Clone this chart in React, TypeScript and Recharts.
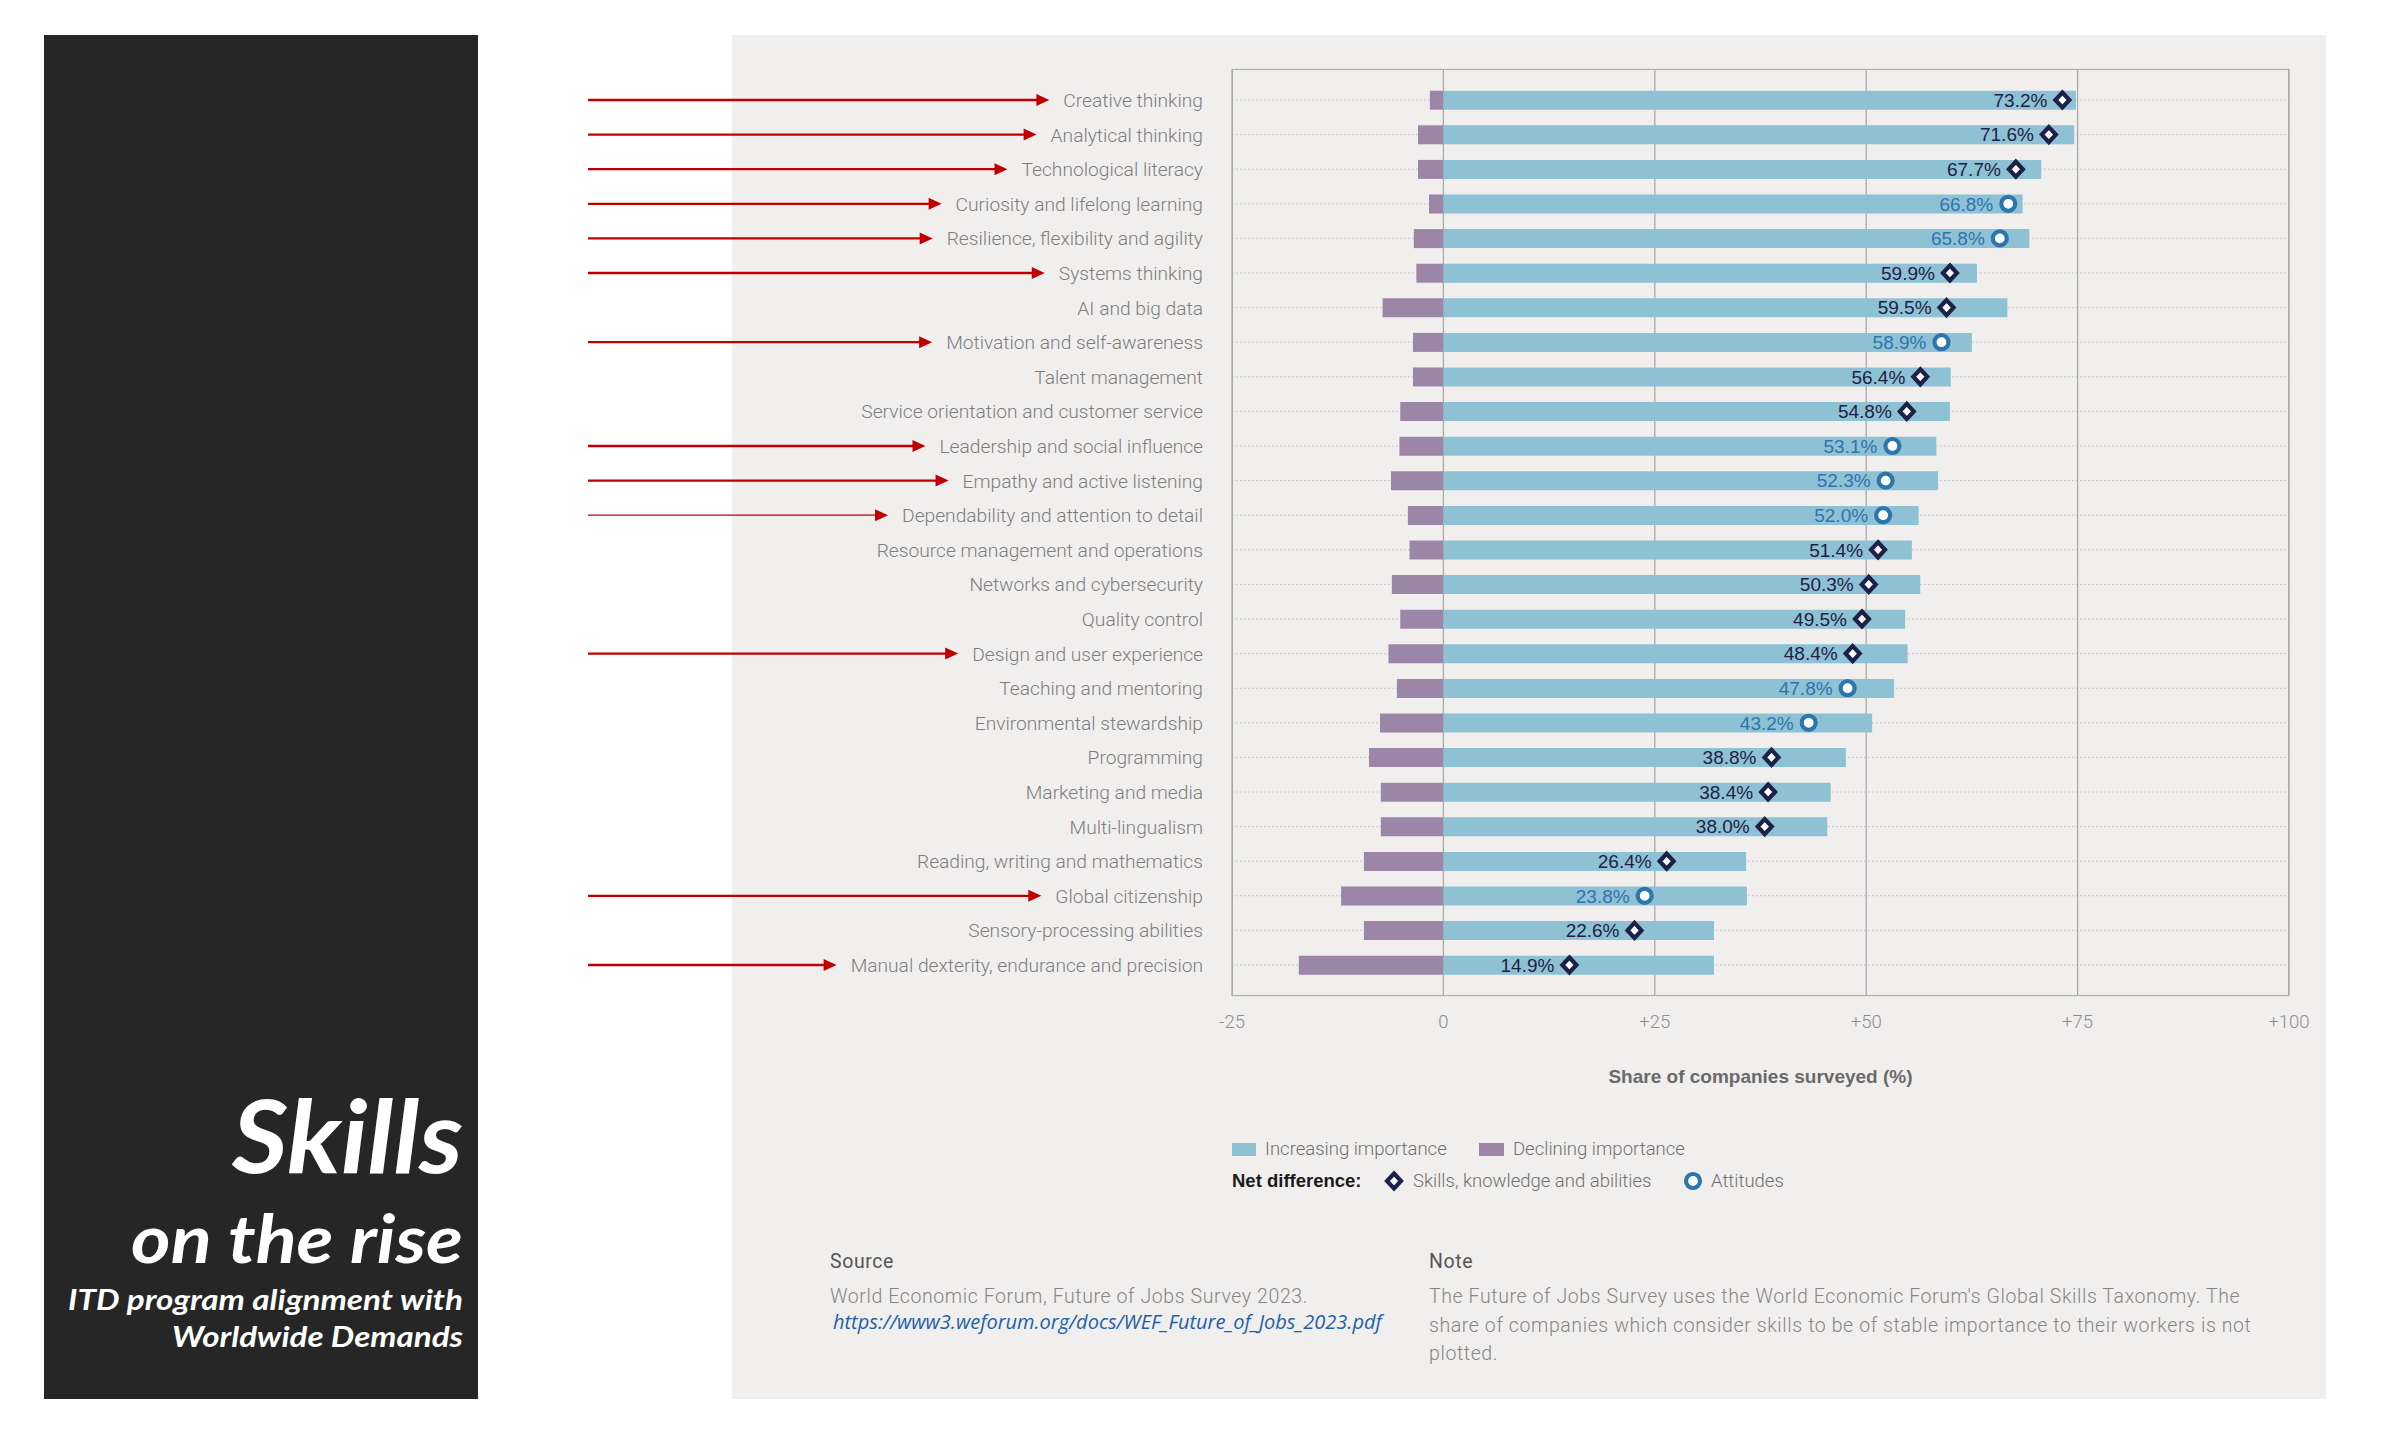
import React from "react";
import {
  ComposedChart,
  Bar,
  Line,
  XAxis,
  YAxis,
  CartesianGrid,
  Label,
} from "recharts";

// --- data (top row first) ---
const categories = [
  "Creative thinking",
  "Analytical thinking",
  "Technological literacy",
  "Curiosity and lifelong learning",
  "Resilience, flexibility and agility",
  "Systems thinking",
  "AI and big data",
  "Motivation and self-awareness",
  "Talent management",
  "Service orientation and customer service",
  "Leadership and social influence",
  "Empathy and active listening",
  "Dependability and attention to detail",
  "Resource management and operations",
  "Networks and cybersecurity",
  "Quality control",
  "Design and user experience",
  "Teaching and mentoring",
  "Environmental stewardship",
  "Programming",
  "Marketing and media",
  "Multi-lingualism",
  "Reading, writing and mathematics",
  "Global citizenship",
  "Sensory-processing abilities",
  "Manual dexterity, endurance and precision",
];

const increasing = [
  74.8, 74.6, 70.7, 68.5, 69.3, 63.1, 66.7, 62.5, 60.0, 59.9, 58.3, 58.5, 56.2,
  55.4, 56.4, 54.6, 54.9, 53.3, 50.7, 47.6, 45.8, 45.4, 35.8, 35.9, 32.0, 32.0,
];

const declining = [
  -1.6, -3.0, -3.0, -1.7, -3.5, -3.2, -7.2, -3.6, -3.6, -5.1, -5.2, -6.2, -4.2,
  -4.0, -6.1, -5.1, -6.5, -5.5, -7.5, -8.8, -7.4, -7.4, -9.4, -12.1, -9.4, -17.1,
];

const netDifference = [
  73.2, 71.6, 67.7, 66.8, 65.8, 59.9, 59.5, 58.9, 56.4, 54.8, 53.1, 52.3, 52.0,
  51.4, 50.3, 49.5, 48.4, 47.8, 43.2, 38.8, 38.4, 38.0, 26.4, 23.8, 22.6, 14.9,
];

// "s" = skills, knowledge and abilities, "a" = attitudes
const netType = [
  "s", "s", "s", "a", "a", "s", "s", "a", "s", "s", "a", "a", "a",
  "s", "s", "s", "s", "a", "a", "s", "s", "s", "s", "a", "s", "s",
];

// skills the ITD program points at
const highlighted = [
  "Creative thinking",
  "Analytical thinking",
  "Technological literacy",
  "Curiosity and lifelong learning",
  "Resilience, flexibility and agility",
  "Systems thinking",
  "Motivation and self-awareness",
  "Leadership and social influence",
  "Empathy and active listening",
  "Dependability and attention to detail",
  "Design and user experience",
  "Global citizenship",
  "Manual dexterity, endurance and precision",
];
const thinArrows = ["Dependability and attention to detail"];

const xTicks = [-25, 0, 25, 50, 75, 100];

const rows = categories.map((name, i) => ({
  name,
  inc: increasing[i],
  dec: declining[i],
  net: netDifference[i],
  type: netType[i],
}));

// --- styling ---
const BAR_BLUE = "#8fc1d4";
const BAR_PURPLE = "#9b86a8";
const NAVY = "#1d2149";
const ATT_BLUE = "#2c76ae";
const RED = "#c00000";
const GREY_TXT = "#7d7d7d";
const LIGHT = "Roboto, 'Liberation Sans', sans-serif";
const ARIAL = "'Liberation Sans', Arial, sans-serif";
const CAT_FONT = 19.2;

// chart placement (page px)
const CHART_LEFT = 580;
const CHART_TOP = 35;
const YAXIS_W = 652; // plot starts at 1232
const CHART_W = 1746;
const CHART_H = 1061;

let ctx: CanvasRenderingContext2D | null = null;
function textWidth(s: string, font: string) {
  if (!ctx) ctx = document.createElement("canvas").getContext("2d");
  if (!ctx) return s.length * 9;
  ctx.font = font;
  return ctx.measureText(s).width;
}

const fmtTick = (v: number) => (v > 0 ? `+${v}` : `${v}`);

function CategoryTick(props: any) {
  const { y, payload } = props;
  const name: string = payload.value;
  const right = YAXIS_W - 29;
  const w = textWidth(name, `300 ${CAT_FONT}px Roboto`);
  const tip = right - w - 14;
  const arrow = highlighted.includes(name);
  return (
    <g>
      {arrow && (
        <g>
          <line
            x1={8}
            x2={tip - 10}
            y1={y}
            y2={y}
            stroke={RED}
            strokeWidth={thinArrows.includes(name) ? 1.2 : 2.3}
          />
          <polygon
            points={`${tip - 13},${y - 6} ${tip},${y} ${tip - 13},${y + 6}`}
            fill={RED}
          />
        </g>
      )}
      <text
        x={right}
        y={y}
        dy="0.36em"
        textAnchor="end"
        fontSize={CAT_FONT}
        fontWeight={300}
        fontFamily={LIGHT}
        fill={GREY_TXT}
      >
        {name}
      </text>
    </g>
  );
}

function Diamond({ cx, cy, color }: { cx: number; cy: number; color: string }) {
  return (
    <polygon
      points={`${cx},${cy - 7.5} ${cx + 7},${cy} ${cx},${cy + 7.5} ${cx - 7},${cy}`}
      fill="#fff"
      stroke={color}
      strokeWidth={4.2}
    />
  );
}

function Ring({ cx, cy, color }: { cx: number; cy: number; color: string }) {
  return <circle cx={cx} cy={cy} r={7} fill="#fff" stroke={color} strokeWidth={4.2} />;
}

function NetMarker(props: any) {
  const { cx, cy, payload, index } = props;
  if (cx == null || cy == null) return <g key={index} />;
  const att = payload.type === "a";
  const color = att ? ATT_BLUE : NAVY;
  return (
    <g key={`m${index}`}>
      <text
        x={cx - 15}
        y={cy}
        dy="0.36em"
        textAnchor="end"
        fontSize={19}
        fontFamily={ARIAL}
        fill={color}
      >
        {`${payload.net.toFixed(1)}%`}
      </text>
      {att ? <Ring cx={cx} cy={cy} color={color} /> : <Diamond cx={cx} cy={cy} color={color} />}
    </g>
  );
}

const abs = (left: number, top: number, extra: React.CSSProperties = {}): React.CSSProperties => ({
  position: "absolute",
  left,
  top,
  whiteSpace: "nowrap",
  ...extra,
});

const legendText: React.CSSProperties = {
  fontFamily: LIGHT,
  fontWeight: 300,
  fontSize: 18.5,
  color: "#6f6f6f",
  lineHeight: "24px",
};

const bodyText: React.CSSProperties = {
  fontFamily: LIGHT,
  fontWeight: 300,
  fontSize: 19.5,
  letterSpacing: 0.6,
  color: "#858585",
  lineHeight: "24px",
};

export default function App() {
  return (
    <div
      style={{
        position: "absolute",
        left: 0,
        top: 0,
        width: 2393,
        height: 1435,
        background: "#ffffff",
        overflow: "hidden",
      }}
    >
      {/* dark title panel */}
      <div style={abs(44, 35, { width: 434, height: 1364, background: "#262626" })} />
      <svg style={abs(0, 0)} width={500} height={1435}>
        <g fill="#ffffff" fontFamily="Lato, 'Open Sans', sans-serif" fontStyle="italic" fontWeight={700} textAnchor="end">
          <text x={463} y={1173} fontSize={102} textLength={231} lengthAdjust="spacingAndGlyphs">
            Skills
          </text>
          <text x={463} y={1263} fontSize={66} textLength={332} lengthAdjust="spacingAndGlyphs">
            on the rise
          </text>
          <text x={463} y={1310} fontSize={28} textLength={395} lengthAdjust="spacingAndGlyphs">
            ITD program alignment with
          </text>
          <text x={463} y={1347} fontSize={28} textLength={291} lengthAdjust="spacingAndGlyphs">
            Worldwide Demands
          </text>
        </g>
      </svg>

      {/* light chart panel */}
      <div style={abs(732, 35, { width: 1594, height: 1364, background: "#f0efee" })} />

      {/* plot frame */}
      <div
        style={abs(1232, 69, {
          width: 1057,
          height: 927,
          border: "1.5px solid #a9a9a9",
          boxSizing: "border-box",
        })}
      />

      <div style={abs(CHART_LEFT, CHART_TOP)}>
        <ComposedChart
          width={CHART_W}
          height={CHART_H}
          data={rows}
          layout="vertical"
          stackOffset="sign"
          margin={{ top: 34, right: 37, bottom: 0, left: 0 }}
        >
          <CartesianGrid horizontal vertical={false} stroke="#bdbdbd" strokeDasharray="1.5 2.5" />
          <CartesianGrid horizontal={false} vertical stroke="#a9a9a9" strokeWidth={1.3} />
          <XAxis
            type="number"
            domain={[-25, 100]}
            ticks={xTicks}
            interval={0}
            tickFormatter={fmtTick}
            axisLine={false}
            tickLine={false}
            tickSize={0}
            tickMargin={19}
            height={100}
            tick={{ fontSize: 18.5, fill: "#8d8d8d", fontFamily: LIGHT, fontWeight: 300 }}
          >
            <Label
              value="Share of companies surveyed (%)"
              position="insideBottom"
              offset={13}
              style={{ fontSize: 19, fontWeight: 700, fill: "#6a6a6a", fontFamily: ARIAL }}
            />
          </XAxis>
          <YAxis
            type="category"
            dataKey="name"
            width={YAXIS_W}
            interval={0}
            axisLine={false}
            tickLine={false}
            padding={{ top: 13.7, bottom: 13.7 }}
            tick={<CategoryTick />}
          />
          <Bar dataKey="dec" stackId="s" fill={BAR_PURPLE} barSize={19} isAnimationActive={false} />
          <Bar dataKey="inc" stackId="s" fill={BAR_BLUE} barSize={19} isAnimationActive={false} />
          <Line
            dataKey="net"
            stroke="none"
            dot={NetMarker}
            activeDot={false}
            legendType="none"
            isAnimationActive={false}
          />
        </ComposedChart>
      </div>

      {/* legend */}
      <div style={abs(1232, 1143, { width: 24, height: 13, background: BAR_BLUE })} />
      <div style={abs(1265, 1137, legendText)}>Increasing importance</div>
      <div style={abs(1479, 1143, { width: 25, height: 13, background: BAR_PURPLE })} />
      <div style={abs(1513, 1137, legendText)}>Declining importance</div>

      <div
        style={abs(1232, 1169, {
          fontFamily: ARIAL,
          fontWeight: 700,
          fontSize: 18.5,
          color: "#1a1a1a",
          lineHeight: "24px",
        })}
      >
        Net difference:
      </div>
      <svg style={abs(1382, 1169)} width={24} height={24}>
        <Diamond cx={12} cy={12} color={NAVY} />
      </svg>
      <div style={abs(1413, 1169, legendText)}>Skills, knowledge and abilities</div>
      <svg style={abs(1681, 1169)} width={24} height={24}>
        <Ring cx={12} cy={12} color={ATT_BLUE} />
      </svg>
      <div style={abs(1711, 1169, legendText)}>Attitudes</div>

      {/* source */}
      <div style={abs(830, 1250, { ...bodyText, color: "#555555", fontWeight: 400 })}>Source</div>
      <div style={abs(830, 1285, bodyText)}>World Economic Forum, Future of Jobs Survey 2023.</div>
      <div
        style={abs(833, 1310, {
          fontFamily: "'Open Sans', sans-serif",
          fontStyle: "italic",
          fontSize: 20,
          color: "#1f5fa8",
          lineHeight: "24px",
        })}
      >
        https://www3.weforum.org/docs/WEF_Future_of_Jobs_2023.pdf
      </div>

      {/* note */}
      <div style={abs(1429, 1250, { ...bodyText, color: "#555555", fontWeight: 400 })}>Note</div>
      <div style={abs(1429, 1285, bodyText)}>
        The Future of Jobs Survey uses the World Economic Forum's Global Skills Taxonomy. The
      </div>
      <div style={abs(1429, 1314, bodyText)}>
        share of companies which consider skills to be of stable importance to their workers is not
      </div>
      <div style={abs(1429, 1342, bodyText)}>plotted.</div>
    </div>
  );
}
